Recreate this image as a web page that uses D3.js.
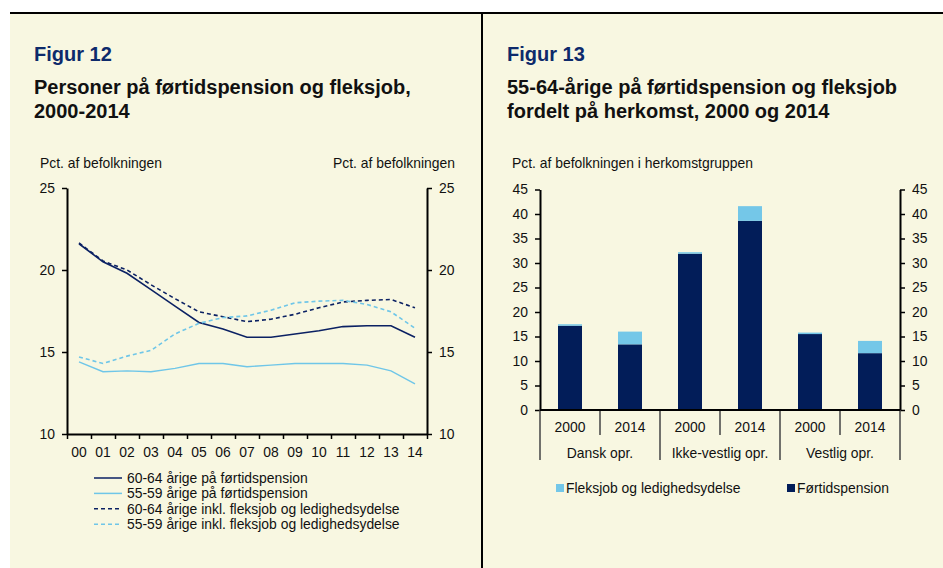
<!DOCTYPE html>
<html>
<head>
<meta charset="utf-8">
<script src="https://cdn.jsdelivr.net/npm/d3@7"></script>
<style>
body { margin: 0; background: #fff; }
svg text { font-family: Arial, "Liberation Sans", sans-serif; fill: #111; }
.title { font-size: 20px; font-weight: bold; }
.fig { fill: #0d2a6b; }
.small { font-size: 13.9px; }
.axis path, .axis line { stroke: #000; }
.axis path { stroke-width: 2; }
.axis line { stroke-width: 1.5; }
.axis text { font-size: 13.9px; fill: #111; }
</style>
</head>
<body>
<script>
// --- Figur 12 data ---
const years = ["00","01","02","03","04","05","06","07","08","09","10","11","12","13","14"]
const pension6064 = [21.6, 20.5, 19.8, 18.8, 17.8, 16.8, 16.4, 15.9, 15.9, 16.1, 16.3, 16.55, 16.6, 16.6, 15.9]
const pension5559 = [14.4, 13.8, 13.85, 13.8, 14.0, 14.3, 14.3, 14.1, 14.2, 14.3, 14.3, 14.3, 14.2, 13.85, 13.05]
const inkl6064 = [21.65, 20.55, 20.0, 19.1, 18.25, 17.45, 17.15, 16.85, 17.0, 17.3, 17.7, 18.05, 18.15, 18.2, 17.7]
const inkl5559 = [14.7, 14.3, 14.75, 15.1, 16.1, 16.75, 17.1, 17.2, 17.55, 18.0, 18.1, 18.15, 17.9, 17.45, 16.45]
const lineNames = [
    "60-64 årige på førtidspension",
    "55-59 årige på førtidspension",
    "60-64 årige inkl. fleksjob og ledighedsydelse",
    "55-59 årige inkl. fleksjob og ledighedsydelse",
]
const leftTicks = [10, 15, 20, 25]

// --- Figur 13 data ---
const groups = ["Dansk opr.", "Ikke-vestlig opr.", "Vestlig opr."]
const barYears = ["2000", "2014"]
const fortid = [17.2, 13.4, 31.9, 38.6, 15.5, 11.6]
const fleks = [0.3, 2.6, 0.3, 3.0, 0.3, 2.5]
const barTicks = [0, 5, 10, 15, 20, 25, 30, 35, 40, 45]

const navy = "#0b2163"
const lightBlue = "#6fc6e8"
const barNavy = "#021d59"
const barLight = "#74c7e8"

const svg = d3.select("body").append("svg")
    .attr("width", 943)
    .attr("height", 568)

svg.append("rect").attr("width", 943).attr("height", 568).attr("fill", "#fff")
svg.append("rect").attr("x", 10).attr("y", 14).attr("width", 933).attr("height", 554).attr("fill", "#f8f7e1")
svg.append("rect").attr("x", 10).attr("y", 12).attr("width", 933).attr("height", 2).attr("fill", "#000")
svg.append("rect").attr("x", 481).attr("y", 12).attr("width", 2).attr("height", 556).attr("fill", "#000")

// titles
function titles(x, lines) {
    svg.append("text").attr("class", "title fig").attr("x", x).attr("y", 61).text(lines[0])
    svg.append("text").attr("class", "title").attr("x", x).attr("y", 94).text(lines[1])
    svg.append("text").attr("class", "title").attr("x", x).attr("y", 118).text(lines[2])
}
titles(34, ["Figur 12", "Personer på førtidspension og fleksjob,", "2000-2014"])
titles(507, ["Figur 13", "55-64-årige på førtidspension og fleksjob", "fordelt på herkomst, 2000 og 2014"])

// ---------------- left chart ----------------
const x = d3.scaleBand().domain(years).range([67, 427])
const xEdge = d3.scaleLinear().domain([0, years.length]).range([67, 427])
const y = d3.scaleLinear().domain([10, 25]).range([434, 188])

svg.append("text").attr("class", "small").attr("x", 40).attr("y", 168).text("Pct. af befolkningen")
svg.append("text").attr("class", "small").attr("x", 455).attr("y", 168).attr("text-anchor", "end").text("Pct. af befolkningen")

svg.append("g").attr("class", "axis")
    .attr("transform", "translate(67,0)")
    .call(d3.axisLeft(y).tickValues(leftTicks).tickSize(5).tickSizeOuter(0).tickPadding(7))
svg.append("g").attr("class", "axis")
    .attr("transform", "translate(427,0)")
    .call(d3.axisRight(y).tickValues(leftTicks).tickSize(5).tickSizeOuter(0).tickPadding(7))
svg.append("g").attr("class", "axis")
    .attr("transform", "translate(0,434)")
    .call(d3.axisBottom(xEdge).tickValues(d3.range(0, years.length + 1)).tickFormat("").tickSize(5).tickSizeOuter(0))
const xLab = svg.append("g").attr("class", "axis")
    .attr("transform", "translate(0,434)")
    .call(d3.axisBottom(x).tickSize(0).tickPadding(13))
xLab.select(".domain").remove()

const series = [
    {values: pension6064, color: navy, dash: null, width: 1.6},
    {values: pension5559, color: lightBlue, dash: null, width: 1.4},
    {values: inkl6064, color: navy, dash: "4,3", width: 1.6},
    {values: inkl5559, color: lightBlue, dash: "4,3", width: 1.6},
]
const line = d3.line()
    .x((d, i) => x(years[i]) + x.bandwidth() / 2)
    .y(d => y(d))
svg.selectAll("path.series").data(series).enter()
    .append("path")
    .attr("class", "series")
    .attr("fill", "none")
    .attr("stroke", s => s.color)
    .attr("stroke-width", s => s.width)
    .attr("stroke-dasharray", s => s.dash)
    .attr("d", s => line(s.values))

const legL = svg.selectAll("g.legL").data(series).enter()
    .append("g").attr("class", "legL")
    .attr("transform", (s, i) => `translate(94,${478 + i * 15.4})`)
legL.append("line")
    .attr("x1", 0).attr("x2", 28)
    .attr("stroke", s => s.color).attr("stroke-width", 1.5)
    .attr("stroke-dasharray", s => s.dash)
legL.append("text").attr("class", "small")
    .attr("x", 33).attr("y", 5)
    .text((s, i) => lineNames[i])

// ---------------- right chart ----------------
const keys = []
groups.forEach(g => barYears.forEach(yr => keys.push(g + "|" + yr)))
const barData = keys.map((k, i) => ({key: k, fortid: fortid[i], fleks: fleks[i]}))

const xb = d3.scaleBand().domain(keys).range([540, 900]).paddingInner(0.6).paddingOuter(0.3)
const xGroup = d3.scaleBand().domain(groups).range([540, 900])
const yb = d3.scaleLinear().domain([0, 45]).range([410, 189.5])

svg.append("text").attr("class", "small").attr("x", 512).attr("y", 168).text("Pct. af befolkningen i herkomstgruppen")

const stacked = d3.stack().keys(["fortid", "fleks"])(barData)
const barColors = {fortid: barNavy, fleks: barLight}
svg.selectAll("g.layer").data(stacked).enter()
    .append("g").attr("class", "layer")
    .attr("fill", s => barColors[s.key])
    .selectAll("rect").data(s => s).enter()
    .append("rect")
    .attr("x", d => xb(d.data.key))
    .attr("width", xb.bandwidth())
    .attr("y", d => yb(d[1]))
    .attr("height", d => yb(d[0]) - yb(d[1]))

svg.append("g").attr("class", "axis")
    .attr("transform", "translate(540,0)")
    .call(d3.axisLeft(yb).tickValues(barTicks).tickSize(5).tickSizeOuter(0).tickPadding(7))
svg.append("g").attr("class", "axis")
    .attr("transform", "translate(900,0)")
    .call(d3.axisRight(yb).tickValues(barTicks).tickSize(5).tickSizeOuter(0).tickPadding(7))

// category separators below the axis
const step = xb.step()
const yearSeps = keys.map((k, i) => xb(k) - step * 0.3).filter((v, i) => i % 2 === 1)
const groupSeps = groups.map(g => xGroup(g)).concat([900])
svg.selectAll("line.ysep").data(yearSeps).enter()
    .append("line").attr("class", "ysep")
    .attr("x1", d => d).attr("x2", d => d)
    .attr("y1", 410).attr("y2", 435)
    .attr("stroke", "#444").attr("stroke-width", 1.5)
svg.selectAll("line.gsep").data(groupSeps).enter()
    .append("line").attr("class", "gsep")
    .attr("x1", d => d).attr("x2", d => d)
    .attr("y1", 410).attr("y2", 460)
    .attr("stroke", "#444").attr("stroke-width", 1.5)
svg.append("line").attr("x1", 540).attr("x2", 900).attr("y1", 410).attr("y2", 410)
    .attr("stroke", "#000").attr("stroke-width", 2)

svg.selectAll("text.yearLab").data(keys).enter()
    .append("text").attr("class", "small yearLab")
    .attr("x", k => xb(k) + xb.bandwidth() / 2)
    .attr("y", 432)
    .attr("text-anchor", "middle")
    .text(k => k.split("|")[1])
svg.selectAll("text.groupLab").data(groups).enter()
    .append("text").attr("class", "small groupLab")
    .attr("x", g => xGroup(g) + xGroup.bandwidth() / 2)
    .attr("y", 458)
    .attr("text-anchor", "middle")
    .text(g => g)

const legR = [
    {name: "Fleksjob og ledighedsydelse", color: barLight, x: 556},
    {name: "Førtidspension", color: barNavy, x: 787},
]
const legRG = svg.selectAll("g.legR").data(legR).enter()
    .append("g").attr("class", "legR")
    .attr("transform", d => `translate(${d.x},488)`)
legRG.append("rect").attr("x", 0).attr("y", -4).attr("width", 8).attr("height", 8).attr("fill", d => d.color)
legRG.append("text").attr("class", "small").attr("x", 10).attr("y", 5).text(d => d.name)
</script>
</body>
</html>
